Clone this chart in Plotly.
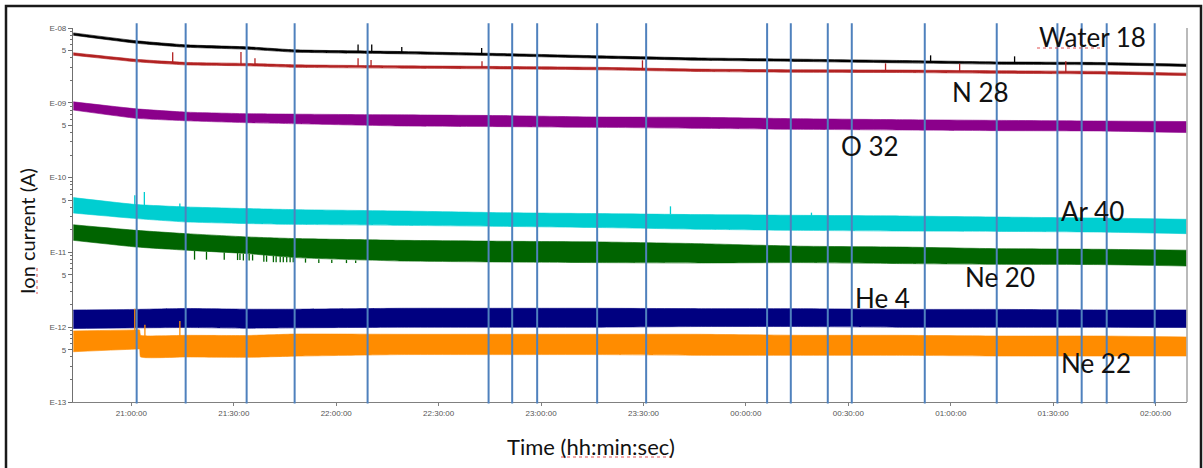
import plotly.graph_objects as go
import pandas as pd

# ---------------- data ----------------
BASE = pd.Timestamp("2000-01-01 21:00:00")

# sampling times, minutes after 21:00:00
t_env = [-17, 1.5, 16, 34, 48, 79, 108, 137, 166, 196, 225, 254, 284, 309]
t_ne22 = [-17, 1.5, 2.4, 2.7, 16, 34, 48, 79, 108, 137, 166, 196, 225, 254, 284, 309]

# upper / lower envelope of each (noisy) ion-current trace, A
water_hi = [8.6e-9, 6.75e-9, 5.95e-9, 5.6e-9, 5.1e-9, 4.85e-9, 4.56e-9, 4.25e-9, 3.98e-9, 3.83e-9, 3.68e-9, 3.52e-9, 3.46e-9, 3.28e-9]
water_lo = [8.0e-9, 6.25e-9, 5.53e-9, 5.2e-9, 4.75e-9, 4.52e-9, 4.25e-9, 3.95e-9, 3.71e-9, 3.57e-9, 3.42e-9, 3.28e-9, 3.22e-9, 3.06e-9]

n28_hi = [4.66e-9, 3.81e-9, 3.47e-9, 3.36e-9, 3.22e-9, 3.12e-9, 3.06e-9, 2.98e-9, 2.82e-9, 2.76e-9, 2.74e-9, 2.68e-9, 2.63e-9, 2.49e-9]
n28_lo = [4.32e-9, 3.53e-9, 3.21e-9, 3.12e-9, 2.98e-9, 2.9e-9, 2.84e-9, 2.76e-9, 2.62e-9, 2.56e-9, 2.54e-9, 2.48e-9, 2.43e-9, 2.31e-9]

o32_hi = [1.03e-9, 8.3e-10, 7.5e-10, 7.15e-10, 7.05e-10, 6.9e-10, 6.75e-10, 6.45e-10, 6.4e-10, 6.12e-10, 5.95e-10, 5.82e-10, 5.7e-10, 5.62e-10]
o32_lo = [8.0e-10, 6.2e-10, 5.75e-10, 5.42e-10, 5.25e-10, 4.9e-10, 4.8e-10, 4.7e-10, 4.56e-10, 4.42e-10, 4.33e-10, 4.24e-10, 4.2e-10, 4.0e-10]

ar40_hi = [5.40e-11, 4.36e-11, 4.05e-11, 3.85e-11, 3.73e-11, 3.58e-11, 3.40e-11, 3.30e-11, 3.20e-11, 3.13e-11, 3.07e-11, 2.97e-11, 2.88e-11, 2.77e-11]
ar40_lo = [3.36e-11, 2.83e-11, 2.55e-11, 2.43e-11, 2.37e-11, 2.30e-11, 2.23e-11, 2.15e-11, 2.04e-11, 1.97e-11, 1.93e-11, 1.91e-11, 1.87e-11, 1.78e-11]

ne20_hi = [2.34e-11, 1.97e-11, 1.78e-11, 1.61e-11, 1.53e-11, 1.45e-11, 1.41e-11, 1.38e-11, 1.31e-11, 1.21e-11, 1.18e-11, 1.12e-11, 1.10e-11, 1.07e-11]
ne20_lo = [1.45e-11, 1.18e-11, 1.07e-11, 9.64e-12, 8.52e-12, 7.67e-12, 7.44e-12, 7.30e-12, 7.22e-12, 7.30e-12, 7.09e-12, 6.93e-12, 6.87e-12, 6.58e-12]

he4_hi = [1.70e-12, 1.73e-12, 1.78e-12, 1.74e-12, 1.74e-12, 1.79e-12, 1.79e-12, 1.79e-12, 1.77e-12, 1.77e-12, 1.73e-12, 1.73e-12, 1.70e-12, 1.70e-12]
he4_lo = [9.6e-13, 9.8e-13, 9.9e-13, 9.7e-13, 9.8e-13, 1.0e-12, 1.0e-12, 1.0e-12, 1.02e-12, 1.02e-12, 1.0e-12, 1.0e-12, 1.0e-12, 9.9e-13]

ne22_hi = [8.9e-13, 9.2e-13, 9.2e-13, 7.8e-13, 7.79e-13, 7.75e-13, 8.1e-13, 8.04e-13, 8.04e-13, 8.04e-13, 8.04e-13, 7.79e-13, 7.79e-13, 7.62e-13, 7.62e-13, 7.40e-13]
ne22_lo = [4.7e-13, 5.1e-13, 5.1e-13, 4.0e-13, 4.0e-13, 3.96e-13, 4.1e-13, 4.3e-13, 4.3e-13, 4.3e-13, 4.21e-13, 4.21e-13, 4.21e-13, 4.12e-13, 4.12e-13, 4.12e-13]

# isolated spikes: time (min after 21:00), start value, tip value
water_spk_t = [66.4, 70.4, 79.2, 102.6, 234.1, 258.7]
water_spk_a = [4.8e-9, 4.75e-9, 4.69e-9, 4.45e-9, 3.55e-9, 3.4e-9]
water_spk_b = [6.0e-9, 6.0e-9, 5.57e-9, 5.40e-9, 4.31e-9, 4.18e-9]

n28_spk_t = [12.1, 32.1, 36.2, 66.4, 70.2, 102.7, 149.7, 220.9, 242.6, 273.7]
n28_spk_a = [3.45e-9, 3.25e-9, 3.22e-9, 3.05e-9, 3.03e-9, 2.95e-9, 2.8e-9, 2.64e-9, 2.6e-9, 2.55e-9]
n28_spk_b = [4.73e-9, 4.77e-9, 3.93e-9, 3.93e-9, 3.73e-9, 3.59e-9, 3.70e-9, 3.37e-9, 3.34e-9, 3.59e-9]

ar40_spk_t = [1.0, 3.8, 14.2, 157.9, 199.2]
ar40_spk_a = [4.3e-11, 4.2e-11, 4.0e-11, 3.25e-11, 3.1e-11]
ar40_spk_b = [5.80e-11, 6.42e-11, 4.49e-11, 4.13e-11, 3.40e-11]

ne20_spk_t = [18.5, 22.0, 27.2, 31.1, 31.8, 32.8, 34.5, 35.5, 38.8, 39.6, 41.6, 42.4,
              43.6, 44.5, 45.5, 46.5, 47.4, 51.0, 54.9, 58.7, 63.0, 65.7]
ne20_spk_a = [1.05e-11, 1.02e-11, 1.0e-11, 9.8e-12, 9.7e-12, 9.6e-12, 9.5e-12, 9.4e-12, 9.2e-12, 9.1e-12, 9.0e-12, 8.9e-12,
              8.8e-12, 8.7e-12, 8.7e-12, 8.6e-12, 8.5e-12, 8.3e-12, 8.1e-12, 8.0e-12, 7.9e-12, 7.8e-12]
ne20_spk_b = [8.0e-12, 8.0e-12, 8.0e-12, 7.9e-12, 7.9e-12, 7.8e-12, 7.8e-12, 7.8e-12, 7.5e-12, 7.5e-12, 7.4e-12, 7.4e-12,
              7.4e-12, 7.4e-12, 7.4e-12, 7.4e-12, 7.4e-12, 7.3e-12, 7.2e-12, 7.2e-12, 7.2e-12, 7.2e-12]

ne22_spk_t = [1.0, 3.96, 14.2]
ne22_spk_a = [8.5e-13, 7.5e-13, 7.5e-13]
ne22_spk_b = [1.77e-12, 1.08e-12, 1.21e-12]

# vertical event markers, minutes after 21:00
event_t = [1.55, 15.9, 33.76, 47.82, 69.19, 104.63, 111.54, 118.86, 136.43, 150.78,
           186.21, 193.15, 203.98, 211.01, 232.39, 253.47, 271.24, 278.35, 285.68, 299.74]

# axis ticks
x_tick_min = [0, 30, 60, 90, 120, 150, 180, 210, 240, 270, 300]
x_range_min = [-17.1, 309.2]
y_tick_vals = [1e-8, 5e-9, 1e-9, 5e-10, 1e-10, 5e-11, 1e-11, 5e-12, 1e-12, 5e-13, 1e-13]
y_tick_text = ["E-08", "5", "E-09", "5", "E-10", "5", "E-11", "5", "E-12", "5", "E-13"]

series = [
    ("Water 18", "#000000", t_env, water_hi, water_lo, water_spk_t, water_spk_a, water_spk_b),
    ("N 28", "#B22222", t_env, n28_hi, n28_lo, n28_spk_t, n28_spk_a, n28_spk_b),
    ("O 32", "#8B008B", t_env, o32_hi, o32_lo, [], [], []),
    ("Ar 40", "#00CED1", t_env, ar40_hi, ar40_lo, ar40_spk_t, ar40_spk_a, ar40_spk_b),
    ("Ne 20", "#006400", t_env, ne20_hi, ne20_lo, ne20_spk_t, ne20_spk_a, ne20_spk_b),
    ("He 4", "#000080", t_env, he4_hi, he4_lo, [], [], []),
    ("Ne 22", "#FF8C00", t_ne22, ne22_hi, ne22_lo, ne22_spk_t, ne22_spk_a, ne22_spk_b),
]

# label positions in pixels (layout only)
label_pos = {
    "Water 18": (1092, 37), "N 28": (980, 92), "O 32": (870, 146), "Ar 40": (1092, 211),
    "Ne 20": (1000, 277), "He 4": (882, 298), "Ne 22": (1096, 363),
}


def tt(m):
    return BASE + pd.to_timedelta(m, unit="m")


def to_times(lst):
    return [tt(m) for m in lst]


W, H = 1203, 468
ML, MR, MT, MB = 73, 16, 28, 66
PW, PH = W - ML - MR, H - MT - MB


def px(x):
    return (x - ML) / PW


def py(y):
    return (H - MB - y) / PH


fig = go.Figure()
for name, col, tl, hi, lo, st, sa, sb in series:
    x = to_times(tl)
    fig.add_trace(go.Scatter(x=x, y=hi, mode="lines", line=dict(color=col, width=0.6, shape="spline", smoothing=0.4),
                             hoverinfo="skip", showlegend=False))
    fig.add_trace(go.Scatter(x=x, y=lo, mode="lines", line=dict(color=col, width=0.6, shape="spline", smoothing=0.4),
                             fill="tonexty", fillcolor=col, name=name, showlegend=False))
    if st:
        sx, sy = [], []
        for t, a, b in zip(st, sa, sb):
            sx += [tt(t), tt(t), None]
            sy += [a, b, None]
        fig.add_trace(go.Scatter(x=sx, y=sy, mode="lines", line=dict(color=col, width=1.3),
                                 hoverinfo="skip", showlegend=False))

shapes = []
for t in event_t:
    shapes.append(dict(type="line", xref="x", yref="paper", x0=tt(t), x1=tt(t), y0=-0.004, y1=1.013,
                       line=dict(color="#4F81BD", width=2)))
# right edge of plot area
shapes.append(dict(type="line", xref="paper", yref="paper", x0=1, x1=1, y0=0, y1=1,
                   line=dict(color="#8C8C8C", width=1.2)))
# outer frame
shapes.append(dict(type="rect", xref="paper", yref="paper", x0=px(6), x1=px(1201), y0=py(6), y1=py(475),
                   line=dict(color="#1A1A1A", width=2.5)))
# spell-check squiggles
shapes.append(dict(type="line", xref="paper", yref="paper", x0=px(1037), x1=px(1101), y0=py(48), y1=py(48),
                   line=dict(color="#E05050", width=1, dash="dot")))
shapes.append(dict(type="line", xref="paper", yref="paper", x0=px(37), x1=px(37), y0=py(268), y1=py(294),
                   line=dict(color="#E05050", width=1, dash="dot")))
shapes.append(dict(type="line", xref="paper", yref="paper", x0=px(561), x1=px(672), y0=py(457), y1=py(457),
                   line=dict(color="#E05050", width=1, dash="dot")))

annotations = []
for name, (lx, ly) in label_pos.items():
    annotations.append(dict(text=name, x=px(lx), y=py(ly), xref="paper", yref="paper", showarrow=False,
                            xanchor="center", yanchor="middle", font=dict(family="Lato", size=26, color="#111111")))
annotations.append(dict(text="Time (hh:min:sec)", x=px(591), y=py(446), xref="paper", yref="paper",
                        showarrow=False, xanchor="center", yanchor="middle",
                        font=dict(family="Lato", size=22, color="#111111")))
annotations.append(dict(text="Ion current (A)", x=px(27), y=py(231), xref="paper", yref="paper",
                        showarrow=False, xanchor="center", yanchor="middle", textangle=-90,
                        font=dict(family="Lato", size=20, color="#111111")))

minor_vals = [m * 10.0 ** e for e in range(-13, -8) for m in (2, 3, 4, 6, 7, 8, 9)]

fig.update_layout(
    width=W, height=H,
    margin=dict(l=ML, r=MR, t=MT, b=MB),
    paper_bgcolor="white", plot_bgcolor="white",
    showlegend=False,
    shapes=shapes, annotations=annotations,
    xaxis=dict(
        type="date", range=[tt(x_range_min[0]), tt(x_range_min[1])],
        tickvals=to_times(x_tick_min), tickformat="%H:%M:%S",
        showgrid=False, zeroline=False, showline=True, linecolor="#808080", linewidth=1.2,
        ticks="outside", ticklen=3, tickcolor="#808080",
        tickfont=dict(family="Liberation Sans", size=8, color="#555555"),
    ),
    yaxis=dict(
        type="log", range=[-13, -8],
        tickvals=y_tick_vals, ticktext=y_tick_text,
        showgrid=False, zeroline=False, showline=True, linecolor="#707070", linewidth=1.2,
        ticks="outside", ticklen=4, tickcolor="#707070",
        tickfont=dict(family="Liberation Sans", size=8, color="#555555"),
        minor=dict(tickvals=minor_vals, ticks="outside", ticklen=2, tickcolor="#707070", showgrid=False),
    ),
)

fig.write_html("out.html", config={"displayModeBar": False},
               post_script="document.body.style.margin='0';document.body.style.overflow='hidden';")
